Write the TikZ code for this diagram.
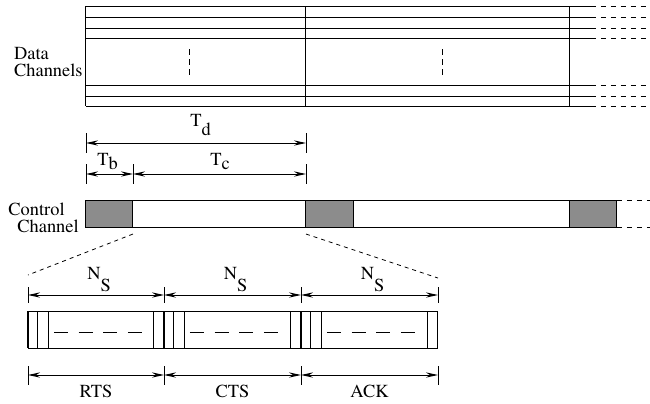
\documentclass[tikz,border=0pt]{standalone}
\usepackage[T1]{fontenc}
\usepackage{times}
\usetikzlibrary{arrows.meta,positioning}
\newcommand{\lowsub}[3]{#1\raisebox{-#3}{#2}}
\tikzset{
  thinline/.style={line width=0.5pt},
  boldline/.style={line width=1pt},
  farline/.style={line width=0.5pt,dash pattern=on 2.5pt off 2.5pt},
  dotline/.style={line width=0.5pt,dash pattern=on 3pt off 2pt},
  fanline/.style={line width=0.4pt,dash pattern=on 2pt off 2pt},
  slotdash/.style={line width=0.5pt,dash pattern=on 7pt off 5.3pt},
  dim/.style={line width=0.5pt,{Stealth[length=6pt,width=2.6pt]}-{Stealth[length=6pt,width=2.6pt]}},
  tickline/.style={line width=0.4pt},
  burst/.style={draw,line width=0.5pt,fill=black!45},
  lbl/.style={font=\fontsize{9.2}{8.3}\selectfont,inner sep=0pt}
}
\begin{document}
\begin{tikzpicture}[x=0.5pt,y=-0.5pt]
\useasboundingbox (0,0) rectangle (650,403);
% data channels
\foreach \y in {6,17,28,38,85,96,106}{
  \draw[thinline] (86,\y) -- (591,\y);
  \draw[farline] (591,\y) -- (650,\y);
}
\foreach \x in {86,306,570} \draw[thinline] (\x,6) -- (\x,106);
\draw[dotline] (190,49) -- (190,77);
\draw[dotline] (443,49) -- (443,77);
\node (data) [lbl,align=left,anchor=east] at (83,62) {Data\\Channels};

% frame times
\coordinate (d0) at (86,143);
\coordinate (d1) at (306,143);
\coordinate (b0) at (86,174);
\coordinate (b1) at (133,174);
\coordinate (b2) at (306,174);
\foreach \x in {86,306} \draw[tickline] (\x,133) -- (\x,153);
\foreach \x in {86,133,306} \draw[tickline] (\x,164) -- (\x,184);
\draw[dim] (d0) -- (d1);
\draw[dim] (b0) -- (b1);
\draw[dim] (b1) -- (b2);
\node (td) [lbl,anchor=base west] at (190,126) {\lowsub{T}{d}{1.2ex}};
\node (tb) [lbl,anchor=base west] at (97,165) {\lowsub{T}{b}{0.5ex}};
\node (tc) [lbl,anchor=base west] at (210,165) {\lowsub{T}{c}{0.6ex}};

% control channel
\draw[thinline] (86,200) rectangle (617,227);
\foreach \a/\b in {86/133,306/354,570/617} \draw[burst] (\a,200) rectangle (\b,227);
\draw[farline] (617,200) -- (650,200);
\draw[farline] (617,227) -- (650,227);
\node (ctrl) [lbl,align=left,anchor=base west] at (8,232) {Control\\\hspace*{4.5pt}Channel};
\coordinate (z0) at (133,234);
\coordinate (z1) at (306,234);
\coordinate (z2) at (28,275);
\coordinate (z3) at (438,278);
\draw[fanline] (z0) -- (z2);
\draw[fanline] (z1) -- (z3);

% minislots
\foreach \s/\e/\name in {28/164/RTS,164/301/CTS,301/438/ACK}{
  \draw[tickline] (\s,287) -- (\s,303);
  \draw[tickline] (\e,287) -- (\e,303);
  \draw[tickline] (\s,366) -- (\s,385);
  \draw[tickline] (\e,366) -- (\e,385);
  \draw[dim] (\s,295) -- (\e,295);
  \draw[dim] (\s,375) -- (\e,375);
  \node [lbl,anchor=base west] at ({(\s+\e)/2-9},279) {\lowsub{N}{S}{1.45ex}};
  \node [lbl,anchor=base] at ({(\s+\e)/2},397) {\name};
  \draw[thinline] (\s+10,311) -- (\s+10,348);
  \draw[thinline] (\s+21,311) -- (\s+21,348);
  \draw[thinline] (\e-10,311) -- (\e-10,348);
  \draw[slotdash] (\s+26,332) -- (\e-14,332);
}
\draw[thinline] (28,311) rectangle (438,348);
\foreach \x in {28,164,301} \draw[boldline] (\x,311) -- (\x,348);
\end{tikzpicture}
\end{document}
